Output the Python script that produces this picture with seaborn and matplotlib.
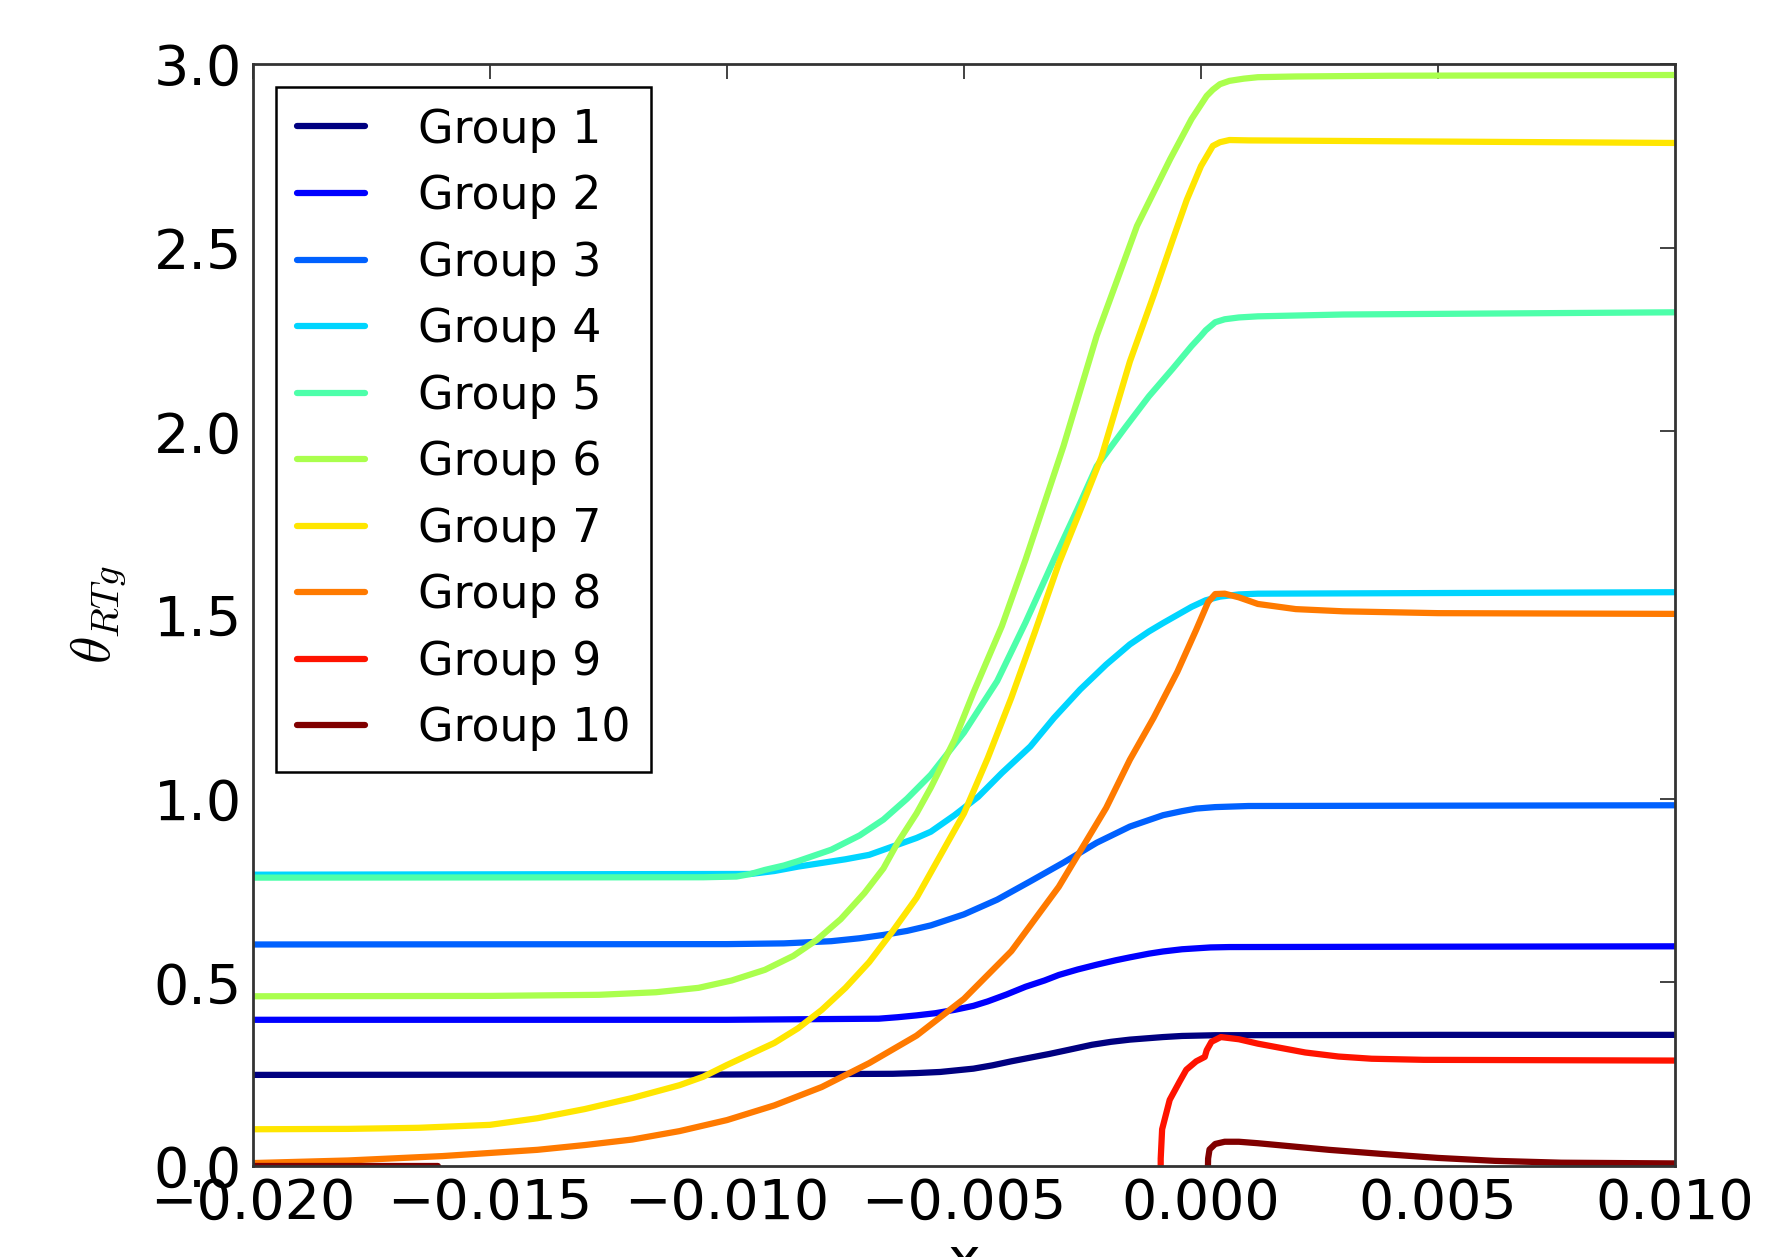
import numpy as np
import pandas as pd
import matplotlib
matplotlib.use("Agg")
import matplotlib.pyplot as plt
import seaborn as sns

# values
g1_x = [-0.020, -0.010, -0.0065, -0.0060, -0.0055, -0.0048, -0.0044, -0.0040, -0.0036, -0.0032, -0.0028,
        -0.0023, -0.0019, -0.0015, -0.0011, -0.0008, -0.0004, 0.0003, 0.0050, 0.0100]
g1_y = [0.248, 0.249, 0.251, 0.253, 0.256, 0.265, 0.274, 0.285, 0.295, 0.305, 0.316,
        0.330, 0.338, 0.344, 0.348, 0.351, 0.354, 0.356, 0.357, 0.357]

g2_x = [-0.020, -0.010, -0.0068, -0.0064, -0.0060, -0.0056, -0.0052, -0.0048, -0.0045, -0.0041, -0.0037,
        -0.0033, -0.0030, -0.0026, -0.0022, -0.0018, -0.0015, -0.0011, -0.0008, -0.0004, 0.0002, 0.0006,
        0.0050, 0.0100]
g2_y = [0.398, 0.398, 0.401, 0.405, 0.410, 0.416, 0.425, 0.436, 0.448, 0.467, 0.488,
        0.505, 0.520, 0.535, 0.548, 0.560, 0.568, 0.578, 0.584, 0.590, 0.595, 0.596,
        0.597, 0.598]

g3_x = [-0.020, -0.010, -0.0088, -0.0078, -0.0072, -0.0067, -0.0062, -0.0057, -0.0050, -0.0043, -0.0036,
        -0.0029, -0.0022, -0.0015, -0.0008, -0.0004, -0.0001, 0.0003, 0.0010, 0.0100]
g3_y = [0.603, 0.604, 0.606, 0.612, 0.620, 0.629, 0.640, 0.655, 0.685, 0.725, 0.775,
        0.826, 0.880, 0.924, 0.955, 0.966, 0.973, 0.977, 0.980, 0.982]

g4_x = [-0.020, -0.0095, -0.0090, -0.0085, -0.0080, -0.0075, -0.0070, -0.0065, -0.0060, -0.0057, -0.0052,
        -0.0047, -0.0042, -0.0036, -0.0031, -0.00255, -0.0020, -0.0015, -0.0011, -0.0008, -0.0005, -0.0002,
        0.0001, 0.0004, 0.0008, 0.0012, 0.0100]
g4_y = [0.793, 0.795, 0.803, 0.815, 0.825, 0.835, 0.847, 0.870, 0.893, 0.910, 0.955,
        1.005, 1.070, 1.142, 1.220, 1.297, 1.365, 1.420, 1.455, 1.478, 1.500, 1.522,
        1.540, 1.550, 1.556, 1.558, 1.562]

g5_x = [-0.020, -0.0105, -0.0098, -0.0095, -0.0092, -0.0088, -0.0085, -0.0078, -0.0072, -0.0067, -0.0062,
        -0.0057, -0.0050, -0.0043, -0.0037, -0.0031, -0.0026, -0.0022, -0.0016, -0.0011, -0.0006, -0.0002,
        0.0000, 0.0001, 0.0003, 0.0005, 0.0008, 0.0012, 0.0030, 0.0100]
g5_y = [0.785, 0.786, 0.788, 0.795, 0.806, 0.818, 0.830, 0.861, 0.900, 0.943, 1.000,
        1.065, 1.180, 1.320, 1.480, 1.651, 1.790, 1.905, 2.010, 2.095, 2.170, 2.232,
        2.260, 2.275, 2.297, 2.305, 2.310, 2.313, 2.318, 2.324]

g6_x = [-0.020, -0.0150, -0.0127, -0.0115, -0.0106, -0.0099, -0.0092, -0.0086, -0.0081, -0.0076, -0.0071,
        -0.0067, -0.0064, -0.0060, -0.0057, -0.0052, -0.0048, -0.0042, -0.0037, -0.0029, -0.0022, -0.00135,
        -0.00065, -0.0002, 0.00012, 0.00025, 0.0004, 0.0006, 0.0009, 0.0012, 0.0020, 0.0040, 0.0100]
g6_y = [0.462, 0.463, 0.466, 0.473, 0.485, 0.505, 0.534, 0.572, 0.616, 0.672, 0.743,
        0.810, 0.880, 0.960, 1.030, 1.160, 1.289, 1.470, 1.651, 1.960, 2.260, 2.559,
        2.741, 2.850, 2.913, 2.930, 2.945, 2.954, 2.960, 2.964, 2.966, 2.968, 2.970]

g7_x = [-0.020, -0.018, -0.0165, -0.015, -0.014, -0.013, -0.012, -0.011, -0.0105, -0.010, -0.009,
        -0.0085, -0.008, -0.0075, -0.007, -0.0065, -0.006, -0.0055, -0.005, -0.0045, -0.004, -0.0035,
        -0.0030, -0.0025, -0.0021, -0.0015, -0.0010, -0.0006, -0.0003, 0.0000, 0.00025, 0.0004, 0.0006,
        0.0010, 0.0100]
g7_y = [0.100, 0.101, 0.104, 0.112, 0.130, 0.155, 0.185, 0.220, 0.243, 0.275, 0.335,
        0.375, 0.425, 0.485, 0.555, 0.640, 0.730, 0.845, 0.960, 1.110, 1.275, 1.455,
        1.640, 1.800, 1.930, 2.190, 2.370, 2.520, 2.630, 2.722, 2.777, 2.787, 2.793,
        2.792, 2.785]

g8_x = [-0.020, -0.018, -0.016, -0.014, -0.013, -0.012, -0.011, -0.010, -0.009, -0.008, -0.007,
        -0.006, -0.005, -0.004, -0.003, -0.002, -0.0015, -0.0010, -0.0005, -0.0001, 0.00015, 0.0003,
        0.0005, 0.0008, 0.0012, 0.0020, 0.0030, 0.0050, 0.0100]
g8_y = [0.008, 0.015, 0.027, 0.044, 0.057, 0.072, 0.095, 0.125, 0.165, 0.215, 0.280,
        0.355, 0.455, 0.585, 0.760, 0.975, 1.106, 1.220, 1.345, 1.460, 1.535, 1.557,
        1.558, 1.548, 1.530, 1.516, 1.510, 1.505, 1.503]

g9_x = [-0.00085, -0.00085, -0.00082, -0.00066, -0.00045, -0.00031, -0.0001, 0.00008, 0.00012, 0.00022, 0.00042,
        0.0008, 0.0012, 0.0017, 0.0022, 0.0029, 0.0036, 0.0047, 0.0100]
g9_y = [-0.05, 0.02, 0.10, 0.18, 0.23, 0.262, 0.285, 0.297, 0.315, 0.338, 0.351,
        0.345, 0.333, 0.321, 0.309, 0.298, 0.292, 0.289, 0.287]

g10_x = [-0.020, -0.0161, -0.0160, 0.00014, 0.00015, 0.00018, 0.0003, 0.0005, 0.0008, 0.0012, 0.0017,
         0.0027, 0.0038, 0.0050, 0.0062, 0.0076, 0.0100]
g10_y = [0.000, 0.000, -0.05, -0.05, 0.020, 0.045, 0.060, 0.066, 0.066, 0.062, 0.056,
         0.044, 0.033, 0.022, 0.014, 0.009, 0.007]

groups = [f"Group {i}" for i in range(1, 11)]
xs = [g1_x, g2_x, g3_x, g4_x, g5_x, g6_x, g7_x, g8_x, g9_x, g10_x]
ys = [g1_y, g2_y, g3_y, g4_y, g5_y, g6_y, g7_y, g8_y, g9_y, g10_y]

frames = []
for name, gx, gy in zip(groups, xs, ys):
    frames.append(pd.DataFrame({"group": name, "x": gx, "theta": gy}))
df = pd.concat(frames, ignore_index=True)

colors = [tuple(c) for c in plt.get_cmap("jet")(np.linspace(0, 1, 10))]

sns.set_style("white")
plt.rcParams["font.family"] = ["DejaVu Sans"]
plt.rcParams["mathtext.fontset"] = "cm"
plt.rcParams["text.color"] = "black"
plt.rcParams["axes.labelcolor"] = "black"

fig = plt.figure(figsize=(17.84, 12.57), dpi=100)
ax = fig.add_axes([0.1418, 0.0724, 0.7971, 0.8767])

for name, col in zip(groups, colors):
    sns.lineplot(data=df[df["group"] == name], x="x", y="theta", color=col,
                 linewidth=4.5, estimator=None, sort=False, ax=ax, legend=False)

xt = np.arange(-0.020, 0.0101, 0.005)
yt = np.arange(0.0, 3.01, 0.5)
ax.set_xlim(-0.020, 0.010)
ax.set_ylim(0.0, 3.0)
ax.set_xticks(xt)
ax.set_yticks(yt)
ax.set_xticklabels([f"{v:.3f}".replace("-", "\u2212") for v in xt])
ax.set_yticklabels([f"{v:.1f}" for v in yt])
ax.tick_params(direction="in", length=11, width=1.2, top=True, right=True,
               labelsize=40, pad=8, colors="#222222", labelcolor="black")
for sp in ax.spines.values():
    sp.set_color("#333333")
    sp.set_linewidth(2)

ax.set_xlabel("x", fontsize=40, labelpad=3)
ax.set_ylabel(r"$\theta_{RTg}$", fontsize=40, labelpad=18)

leg = ax.legend(ax.lines[:10], groups, loc="upper left", fontsize=33, frameon=True,
                fancybox=False, framealpha=1, edgecolor="black", borderaxespad=0.5,
                borderpad=0.45, labelspacing=0.47, handlelength=1.5, handletextpad=1.15)
leg.get_frame().set_linewidth(1.8)

fig.savefig("out.png", dpi=100)
